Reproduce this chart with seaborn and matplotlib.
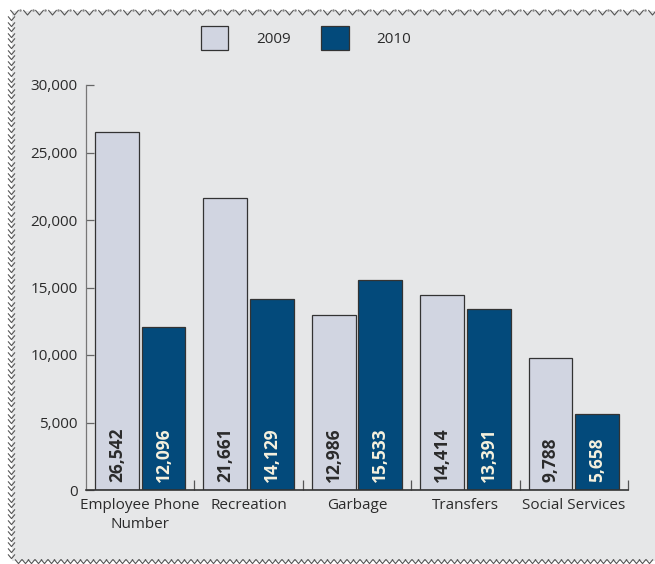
import numpy as np
import pandas as pd
import matplotlib
matplotlib.use("Agg")
import matplotlib.pyplot as plt
import seaborn as sns
from matplotlib.patches import Rectangle
from matplotlib.lines import Line2D
from matplotlib.path import Path
from matplotlib.transforms import IdentityTransform
from matplotlib.ticker import FuncFormatter, FixedLocator

# Call volume by category
categories = ["Employee Phone\nNumber", "Recreation", "Garbage", "Transfers", "Social Services"]
years = ["2009", "2010"]
calls_2009 = [26542, 21661, 12986, 14414, 9788]
calls_2010 = [12096, 14129, 15533, 13391, 5658]
y_ticks = [0, 5000, 10000, 15000, 20000, 25000, 30000]

df = pd.DataFrame({
    "category": categories * 2,
    "year": [years[0]] * len(categories) + [years[1]] * len(categories),
    "calls": calls_2009 + calls_2010,
})

BG = "#e6e7e8"
LIGHT = "#d1d5e1"
DARK = "#034a7b"
TEXT = "#2b2b2b"

sns.set_theme(style="white")
plt.rcParams["font.family"] = ["Open Sans", "DejaVu Sans"]

W, H = 655, 564
fig = plt.figure(figsize=(W / 100, H / 100), dpi=100, facecolor="white")

# grey panel behind the chart
fig.patches.append(Rectangle((12 / W, 3 / H), 1 - 12 / W, (553 - 3) / H,
                             transform=fig.transFigure, facecolor=BG,
                             edgecolor="none", zorder=-10))

# chevron border along top, left and bottom
vshape = Path([(-1, 0.6), (0, -0.6), (1, 0.6)], [Path.MOVETO, Path.LINETO, Path.LINETO])
top_x = np.arange(14, W, 12.5)
fig.add_artist(Line2D(top_x, np.full_like(top_x, H - 12), transform=IdentityTransform(),
                      linestyle="none", marker=vshape, markersize=6, markerfacecolor="none",
                      markeredgecolor="#555555", markeredgewidth=0.8))
dot_x = top_x + 6.25
fig.add_artist(Line2D(dot_x, np.full_like(dot_x, H - 10), transform=IdentityTransform(),
                      linestyle="none", marker="o", markersize=0.8, color="#888888"))
left_y = np.arange(H - 18, 4, -5.6)
fig.add_artist(Line2D(np.full_like(left_y, 11), left_y, transform=IdentityTransform(),
                      linestyle="none", marker=vshape, markersize=5, markerfacecolor="none",
                      markeredgecolor="#555555", markeredgewidth=0.8))
bot_x = np.arange(18, W, 6.5)
fig.add_artist(Line2D(bot_x, np.full_like(bot_x, 3), transform=IdentityTransform(),
                      linestyle="none", marker=vshape, markersize=5, markerfacecolor="none",
                      markeredgecolor="#555555", markeredgewidth=0.8))

ax = fig.add_axes([86 / W, 74 / H, 542 / W, 405 / H])
ax.set_facecolor(BG)

sns.barplot(data=df, x="category", y="calls", hue="year", order=categories,
            hue_order=years, palette=[LIGHT, DARK], width=0.86, gap=0.06,
            edgecolor="#333333", linewidth=0.9, saturation=1, ax=ax, legend=False)

ax.set_xlim(-0.5, 4.5)
ax.set_ylim(0, 30000)
ax.set_xlabel("")
ax.set_ylabel("")

ax.set_yticks(y_ticks)
ax.yaxis.set_major_formatter(FuncFormatter(lambda v, p: f"{int(v):,}"))
ax.tick_params(axis="y", direction="in", length=6, width=0.9, color="#666666",
               labelsize=11, labelcolor=TEXT, pad=6, left=True)
ax.tick_params(axis="x", which="major", length=0, labelsize=11, labelcolor=TEXT, pad=6)
for lbl in ax.get_xticklabels():
    lbl.set_linespacing(1.35)
ax.xaxis.set_minor_locator(FixedLocator([0.5, 1.5, 2.5, 3.5, 4.5]))
ax.tick_params(axis="x", which="minor", direction="in", length=7, width=0.9,
               color="#555555", bottom=True)

for s in ["top", "right"]:
    ax.spines[s].set_visible(False)
ax.spines["left"].set_color("#777777")
ax.spines["left"].set_linewidth(0.9)
ax.spines["bottom"].set_color("#333333")
ax.spines["bottom"].set_linewidth(1.2)

# value labels written vertically at the base of each bar
for container, color in zip(ax.containers, [TEXT, "#f6f1de"]):
    for bar in container:
        val = bar.get_height()
        ax.text(bar.get_x() + bar.get_width() / 2, 600, f"{int(round(val)):,}",
                rotation=90, ha="center", va="bottom", fontsize=12.5,
                fontweight="bold", color=color)

handles = [Rectangle((0, 0), 1, 1, facecolor=LIGHT, edgecolor="#333333", linewidth=0.9),
           Rectangle((0, 0), 1, 1, facecolor=DARK, edgecolor="#333333", linewidth=0.9)]
fig.legend(handles, years, loc="center", bbox_to_anchor=(306 / W, 1 - 38 / H),
           ncol=2, frameon=False, fontsize=11, handlelength=1.8, handleheight=2.0,
           handletextpad=1.8, columnspacing=2.0, labelcolor=TEXT)

fig.savefig("out.png", dpi=100, facecolor="white")
